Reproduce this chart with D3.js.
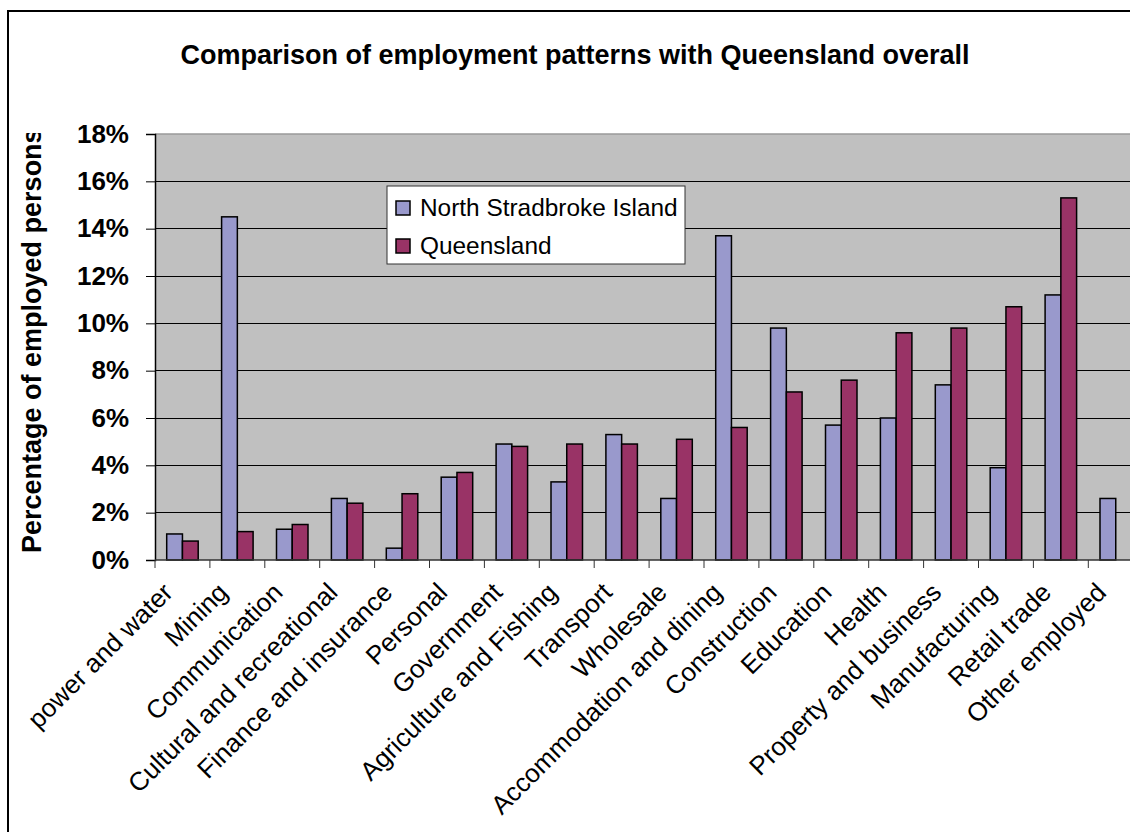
<!DOCTYPE html>
<html>
<head>
<meta charset="utf-8">
<script src="https://cdn.jsdelivr.net/npm/d3@7"></script>
<style>
  body { margin: 0; background: #fff; }
  svg { display: block; font-family: "Liberation Sans", Arial, sans-serif; }
</style>
</head>
<body>
<div id="chart"></div>
<script>
var categories = ["power and water", "Mining", "Communication", "Cultural and recreational",
    "Finance and insurance", "Personal", "Government", "Agriculture and Fishing", "Transport",
    "Wholesale", "Accommodation and dining", "Construction", "Education", "Health",
    "Property and business", "Manufacturing", "Retail trade", "Other employed"];
var stradbroke = [1.1, 14.5, 1.3, 2.6, 0.5, 3.5, 4.9, 3.3, 5.3, 2.6, 13.7, 9.8, 5.7, 6.0, 7.4, 3.9, 11.2, 2.6];
var queensland = [0.8, 1.2, 1.5, 2.4, 2.8, 3.7, 4.8, 4.9, 4.9, 5.1, 5.6, 7.1, 7.6, 9.6, 9.8, 10.7, 15.3, null];
var seriesNames = ["North Stradbroke Island", "Queensland"];
var seriesColors = ["#9999CC", "#993366"];
var yTicks = [0, 2, 4, 6, 8, 10, 12, 14, 16, 18];

var width = 1130, height = 832;
// plot area runs past the right edge of the picture, like the original
var plot = { left: 155, top: 134, right: 155 + 18 * 54.9, bottom: 560 };

var svg = d3.select("#chart").append("svg")
    .attr("width", width)
    .attr("height", height);

// chart frame (right and bottom edges are off-picture)
svg.append("rect")
    .attr("x", 8).attr("y", 11)
    .attr("width", 1300).attr("height", 1000)
    .attr("fill", "#fff")
    .attr("stroke", "#000")
    .attr("stroke-width", 2);

var x = d3.scaleBand().domain(categories).range([plot.left, plot.right]);
var xs = d3.scaleBand().domain([0, 1]).range([0, x.bandwidth()]).paddingOuter(0.743);
var y = d3.scaleLinear().domain([0, 18]).range([plot.bottom, plot.top]);

svg.append("rect")
    .attr("x", plot.left).attr("y", plot.top)
    .attr("width", plot.right - plot.left).attr("height", plot.bottom - plot.top)
    .attr("fill", "#C0C0C0");

svg.append("g").selectAll("line")
    .data(yTicks.filter(function (d) { return d > 0 && d < 18; }))
    .enter().append("line")
    .attr("x1", plot.left).attr("x2", plot.right)
    .attr("y1", function (d) { return y(d); })
    .attr("y2", function (d) { return y(d); })
    .attr("stroke", "#000")
    .attr("stroke-width", 1)
    .attr("shape-rendering", "crispEdges");

svg.append("line")
    .attr("x1", plot.left).attr("x2", plot.right)
    .attr("y1", plot.top).attr("y2", plot.top)
    .attr("stroke", "#9a9a9a").attr("stroke-width", 1.5);

// bars
var rows = categories.map(function (c, i) { return { cat: c, vals: [stradbroke[i], queensland[i]] }; });
var groups = svg.append("g").selectAll("g")
    .data(rows)
    .enter().append("g")
    .attr("transform", function (d) { return "translate(" + x(d.cat) + ",0)"; });

groups.selectAll("rect")
    .data(function (d) { return d.vals.map(function (v, k) { return { k: k, v: v }; }).filter(function (e) { return e.v != null; }); })
    .enter().append("rect")
    .attr("x", function (d) { return xs(d.k); })
    .attr("width", xs.bandwidth())
    .attr("y", function (d) { return y(d.v); })
    .attr("height", function (d) { return y(0) - y(d.v); })
    .attr("fill", function (d) { return seriesColors[d.k]; })
    .attr("stroke", "#000")
    .attr("stroke-width", 1.5);

// y axis
var yAxis = svg.append("g")
    .attr("transform", "translate(" + plot.left + ",0)")
    .call(d3.axisLeft(y).tickValues(yTicks).tickSize(9).tickPadding(17)
        .tickFormat(function (d) { return d + "%"; }));
yAxis.select(".domain").attr("stroke", "#000").attr("stroke-width", 1.5);
yAxis.selectAll(".tick line").attr("stroke", "#000");
yAxis.selectAll("text")
    .attr("font-size", 26)
    .attr("font-weight", "bold")
    .attr("font-family", "'Liberation Sans', Arial, sans-serif")
    .attr("fill", "#000");

// x axis line and boundary ticks
svg.append("line")
    .attr("x1", plot.left).attr("x2", plot.right)
    .attr("y1", plot.bottom).attr("y2", plot.bottom)
    .attr("stroke", "#333").attr("stroke-width", 1.5);

svg.append("g").selectAll("line")
    .data(categories)
    .enter().append("line")
    .attr("x1", function (d) { return x(d); })
    .attr("x2", function (d) { return x(d); })
    .attr("y1", plot.bottom).attr("y2", plot.bottom + 8)
    .attr("stroke", "#333").attr("stroke-width", 1);

svg.append("g").selectAll("text")
    .data(categories)
    .enter().append("text")
    .attr("transform", function (d) {
        return "translate(" + (x(d) + x.bandwidth() / 2 - 8) + "," + 594 + ")rotate(-45)";
    })
    .attr("text-anchor", "end")
    .attr("font-size", 26)
    .attr("fill", "#000")
    .text(function (d) { return d; });

// y axis title, clipped at the top like the original
svg.append("clipPath").attr("id", "ytitle-clip")
    .append("rect").attr("x", 0).attr("y", 133).attr("width", 150).attr("height", 500);
svg.append("g")
    .attr("clip-path", "url(#ytitle-clip)")
    .append("text")
    .attr("transform", "translate(41,553)rotate(-90)")
    .attr("font-size", 27)
    .attr("font-weight", "bold")
    .attr("fill", "#000")
    .text("Percentage of employed persons");

// title
svg.append("text")
    .attr("x", 575).attr("y", 64)
    .attr("text-anchor", "middle")
    .attr("font-size", 27)
    .attr("font-weight", "bold")
    .attr("fill", "#000")
    .text("Comparison of employment patterns with Queensland overall");

// legend
var legend = svg.append("g").attr("transform", "translate(387,186)");
legend.append("rect")
    .attr("width", 298).attr("height", 78)
    .attr("fill", "#fff").attr("stroke", "#333").attr("stroke-width", 1);
var items = legend.selectAll("g.item")
    .data(seriesNames)
    .enter().append("g")
    .attr("class", "item")
    .attr("transform", function (d, i) { return "translate(0," + (i * 38) + ")"; });
items.append("rect")
    .attr("x", 9).attr("y", 15)
    .attr("width", 14).attr("height", 14)
    .attr("fill", function (d, i) { return seriesColors[i]; })
    .attr("stroke", "#000").attr("stroke-width", 1.5);
items.append("text")
    .attr("x", 33).attr("y", 30)
    .attr("font-size", 24.4)
    .attr("fill", "#000")
    .text(function (d) { return d; });
</script>
</body>
</html>
